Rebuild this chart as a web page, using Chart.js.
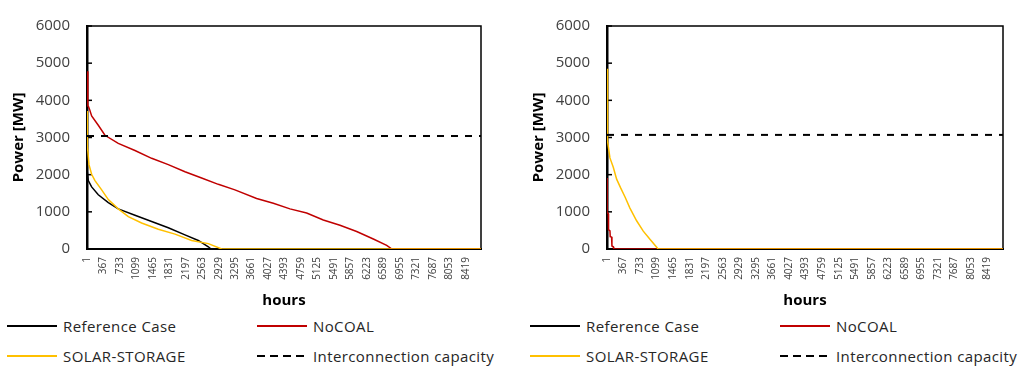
<!DOCTYPE html>
<html>
<head>
<meta charset="utf-8">
<script src="https://cdn.jsdelivr.net/npm/chart.js@4.4.1/dist/chart.umd.min.js"></script>
<style>
  body { margin: 0; background: #fff; font-family: "Open Sans", sans-serif; }
  .panel  { position: absolute; top: 0; width: 500px; height: 369px; }
  .plot   { position: relative; width: 500px; height: 315px; }
  .legend { position: absolute; left: 0; top: 315px; width: 500px; height: 54px; }
  .item   { position: absolute; display: flex; align-items: center; height: 20px;
            font-size: 15px; letter-spacing: 0.4px; color: #262626; white-space: nowrap; }
  .item svg { margin-right: 6px; }
</style>
</head>
<body>
<div class="panel" style="left:0">
  <div class="plot"><canvas id="chartLeft"></canvas></div>
  <div class="legend" id="legLeft"></div>
</div>
<div class="panel" style="left:520px">
  <div class="plot"><canvas id="chartRight"></canvas></div>
  <div class="legend" id="legRight"></div>
</div>

<script>
// ── Data ──────────────────────────────────────────────────────────────────

const seriesNames  = ['Reference Case', 'NoCOAL', 'SOLAR-STORAGE', 'Interconnection capacity'];
const seriesColors = ['#000000', '#C00000', '#FFC000', '#000000'];

const hourTicks = [1, 367, 733, 1099, 1465, 1831, 2197, 2563, 2929, 3295, 3661, 4027,
                   4393, 4759, 5125, 5491, 5857, 6223, 6589, 6955, 7321, 7687, 8053, 8419];
const lastHour = 8760;

// left panel
const refHoursL   = [1, 3, 8, 30, 104, 252, 475, 696, 1067, 1438, 1808, 2179, 2475, 2698, 2760, 8760];
const refMWL      = [3870, 2750, 2100, 1840, 1670, 1460, 1250, 1080, 910, 740, 570, 380, 230, 60, 0, 0];
const coalHoursL  = [1, 20, 35, 60, 104, 252, 400, 696, 1067, 1438, 1808, 2179, 2549, 2920, 3290,
                     3772, 4143, 4513, 4884, 5254, 5625, 5996, 6366, 6663, 6780, 8760];
const coalMWL     = [4780, 3850, 3830, 3750, 3580, 3330, 3060, 2840, 2650, 2440, 2270, 2080, 1910, 1740, 1590,
                     1360, 1230, 1080, 970, 780, 640, 470, 270, 100, 0, 0];
const solarHoursL = [1, 5, 15, 45, 104, 178, 327, 475, 696, 919, 1215, 1586, 1957, 2327, 2698, 2995, 8760];
const solarMWL    = [3710, 3300, 2770, 2270, 2010, 1840, 1590, 1330, 1080, 870, 700, 530, 400, 230, 145, 0, 0];
const capacityL   = 3040;

// right panel
const refHoursR   = [1, 8, 8760];
const refMWR      = [3050, 0, 0];
const coalHoursR  = [1, 3, 30, 35, 66, 72, 103, 110, 140, 150, 8760];
const coalMWR     = [1910, 980, 950, 520, 490, 330, 320, 80, 60, 0, 0];
const solarHoursR = [1, 5, 20, 66, 140, 214, 300, 400, 508, 656, 803, 951, 1100, 1130, 8760];
const solarMWR    = [4850, 3080, 2900, 2450, 2200, 1880, 1650, 1400, 1100, 760, 480, 260, 50, 0, 0];
const capacityR   = 3070;

// ── Helpers ───────────────────────────────────────────────────────────────

const FONT = 'Open Sans';
const pts = (hs, vs) => hs.map((h, i) => ({ x: h, y: vs[i] }));

// plot frame + inward y ticks
const framePlugin = {
  id: 'frame',
  beforeDatasetsDraw(chart) {
    const { ctx, chartArea: a, scales: { y } } = chart;
    ctx.save();
    ctx.strokeStyle = '#000';
    ctx.lineWidth = 1.5;
    ctx.strokeRect(a.left, a.top, a.right - a.left, a.bottom - a.top);
    y.ticks.forEach(t => {
      const py = y.getPixelForValue(t.value);
      ctx.beginPath(); ctx.moveTo(a.left, py); ctx.lineTo(a.left + 5, py); ctx.stroke();
    });
    ctx.restore();
  }
};

function makeChart(id, top, right, ref, coal, solar, cap) {
  const line = (i, data, order, extra) => ({
    label: seriesNames[i], data, order,
    borderColor: seriesColors[i], backgroundColor: seriesColors[i],
    borderWidth: 1.5, pointRadius: 0, tension: 0, fill: false, ...extra
  });
  return new Chart(document.getElementById(id), {
    type: 'line',
    plugins: [framePlugin],
    data: { datasets: [
      line(3, pts([hourTicks[0], lastHour], [cap, cap]), 0, { borderDash: [7, 7], borderWidth: 2 }),
      line(2, solar, 1),
      line(1, coal, 2),
      line(0, ref, 3)
    ] },
    options: {
      responsive: true, maintainAspectRatio: false, animation: false,
      layout: { padding: { top, right, bottom: 0, left: 0 } },
      plugins: { legend: { display: false }, tooltip: { enabled: false } },
      scales: {
        x: { type: 'linear', min: 1, max: lastHour,
             afterBuildTicks: s => { s.ticks = hourTicks.map(v => ({ value: v })); },
             afterFit: s => { s.height = 66; },
             ticks: { autoSkip: false, minRotation: 90, maxRotation: 90, padding: 8,
                      color: '#404040', font: { family: FONT, size: 10 }, callback: v => String(v) },
             grid: { display: true, drawOnChartArea: false, drawTicks: false },
             border: { display: true, color: '#000', width: 2 },
             title: { display: true, text: 'hours', color: '#000',
                      font: { family: FONT, size: 15, weight: 'bold' }, padding: { top: 0, bottom: 5 } } },
        y: { min: 0, max: 6000,
             afterFit: s => { s.width = 87; },
             ticks: { stepSize: 1000, padding: 17, color: '#404040',
                      font: { family: FONT, size: 15 }, callback: v => String(v) },
             grid: { display: true, drawOnChartArea: false, drawTicks: false },
             border: { display: true, color: '#000', width: 2.5 },
             title: { display: true, text: 'Power [MW]', color: '#000',
                      font: { family: FONT, size: 15, weight: 'bold' }, padding: { top: 10, bottom: 0 } } }
      }
    }
  });
}

function makeLegend(id, dx) {
  const pos = [[7, 1], [257, 1], [7, 31], [257, 31]];
  const el = document.getElementById(id);
  seriesNames.forEach((name, i) => {
    const dash = i === 3 ? 'stroke-dasharray="8,5"' : '';
    const d = document.createElement('div');
    d.className = 'item';
    d.style.left = (pos[i][0] + dx) + 'px';
    d.style.top  = pos[i][1] + 'px';
    d.innerHTML = `<svg width="50" height="4"><line x1="0" y1="2" x2="50" y2="2" stroke="${seriesColors[i]}" stroke-width="2" ${dash}/></svg>${name}`;
    el.appendChild(d);
  });
}

// ── Build ─────────────────────────────────────────────────────────────────

makeChart('chartLeft', 13, 19,
  pts(refHoursL, refMWL), pts(coalHoursL, coalMWL), pts(solarHoursL, solarMWL), capacityL);
makeChart('chartRight', 17, 17,
  pts(refHoursR, refMWR), pts(coalHoursR, coalMWR), pts(solarHoursR, solarMWR), capacityR);
makeLegend('legLeft', 0);
makeLegend('legRight', 3);
</script>
</body>
</html>
